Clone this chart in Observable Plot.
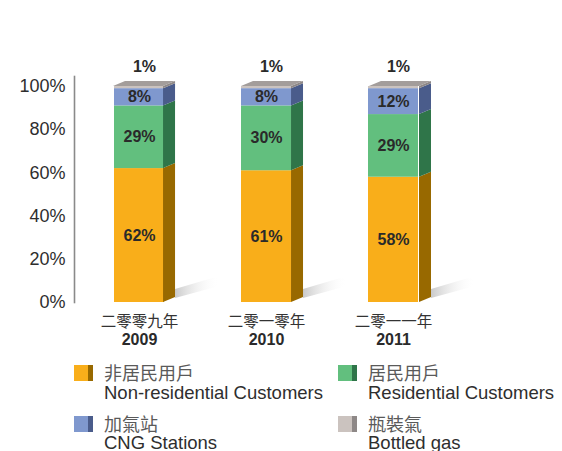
<!DOCTYPE html>
<html><head><meta charset="utf-8">
<script src="https://cdn.jsdelivr.net/npm/d3@7"></script>
<script src="https://cdn.jsdelivr.net/npm/@observablehq/plot@0.6"></script>
<style>
body{margin:0;background:#fff;font-family:"Liberation Sans",Arial,Helvetica,sans-serif;}
#wrap{position:relative;width:562px;height:451px;overflow:hidden;}
#chart{position:absolute;left:0;top:0;}
.sw{position:absolute;width:19px;height:16px;}
.zh{position:absolute;font-family:"Noto Sans CJK TC","Noto Sans CJK SC",sans-serif;font-size:18px;line-height:20px;color:#5a5a5a;white-space:nowrap;}
.en{position:absolute;font-size:18.5px;line-height:19px;color:#2e2e2e;white-space:nowrap;}
</style></head><body>
<div id="wrap"><div id="chart"></div><div id="legend"></div></div>
<script>
const years = ["2009", "2010", "2011"];
const yearLabelsZh = ["二零零九年", "二零一零年", "二零一一年"];
const seriesZh = ["非居民用戶", "居民用戶", "加氣站", "瓶裝氣"];
const seriesEn = ["Non-residential Customers", "Residential Customers", "CNG Stations", "Bottled gas"];
const nonResidential = [62, 61, 58];
const residential = [29, 30, 29];
const cng = [8, 8, 12];
const bottled = [1, 1, 1];
const yTicks = [0, 20, 40, 60, 80, 100];

const frontColors = ["#F9AE1A", "#62BF7E", "#7F98CE", "#CBC3BF"];
const sideColors = ["#986900", "#2F7549", "#4A5C8B", "#8E8887"];
const topColor = "#A39D9B";

const seriesValues = [nonResidential, residential, cng, bottled];
const rows = [];
years.forEach((yr, i) => {
  let acc = 0;
  seriesValues.forEach((vals, s) => {
    const v = vals[i];
    rows.push({year: yr, series: seriesEn[s], s, value: v, y1: acc, y2: acc + v, mid: acc + v / 2, label: v + "%"});
    acc += v;
  });
});
const inner = rows.filter(d => d.s < 3);
const topRows = rows.filter(d => d.s === 3);

const W = 562, H = 345;
const chart = Plot.plot({
  width: W, height: H,
  marginTop: 86, marginBottom: 43, marginLeft: 74, marginRight: 0,
  style: {fontFamily: "'Liberation Sans', Arial, sans-serif", background: "transparent", overflow: "visible"},
  x: {domain: years, range: [113, 419], paddingInner: 0.609, paddingOuter: 0, axis: null, label: null},
  y: {domain: [0, 100], axis: null, label: null},
  color: {domain: seriesEn, range: frontColors},
  marks: [
    Plot.frame({anchor: "left", stroke: "#8a8a8a", strokeWidth: 1.6, insetTop: -10}),
    Plot.axisY({ticks: yTicks, tickSize: 0, tickPadding: 9, tickFormat: d => d + "%", fontSize: 18, fill: "#2e2e2e", label: null}),
    Plot.axisX({tickSize: 0, tickPadding: 13, tickFormat: d => yearLabelsZh[years.indexOf(d)], fontSize: 15.5, fill: "#333", fontFamily: "'Noto Sans CJK TC', sans-serif", label: null}),
    Plot.axisX({tickSize: 0, tickPadding: 31, fontSize: 16, fontWeight: "bold", fill: "#2a2a2a", label: null}),
    Plot.barY(rows, {x: "year", y1: "y1", y2: "y2", fill: "series"}),
    Plot.text(inner, {x: "year", y: "mid", text: "label", fontSize: 16, fontWeight: "bold", fill: "#2a2a2a"}),
    Plot.text(topRows, {x: "year", y: "y2", text: "label", fontSize: 16, fontWeight: "bold", fill: "#2a2a2a", dy: -20, dx: 5})
  ]
});
document.getElementById("chart").appendChild(chart);

// 3D side/top faces and shadows drawn from Plot's own scales
const sx = chart.scale("x"), sy = chart.scale("y");
const xs = d3.scaleBand().domain(sx.domain).range(sx.range)
  .paddingInner(sx.paddingInner ?? 0.609).paddingOuter(sx.paddingOuter ?? 0).align(sx.align ?? 0.5);
const ys = d3.scaleLinear().domain(sy.domain).range(sy.range);
const bw = xs.bandwidth();
const DX = 12, DY = 5;
const svg = d3.select(chart);
const defs = svg.append("defs");
const grad = defs.append("linearGradient").attr("id", "shadowGrad").attr("x1", "0").attr("x2", "1").attr("y1", "0").attr("y2", "0");
grad.append("stop").attr("offset", "0").attr("stop-color", "#c4c4c4").attr("stop-opacity", 0.9);
grad.append("stop").attr("offset", "1").attr("stop-color", "#ffffff").attr("stop-opacity", 0);
const barNode = svg.select('g[aria-label="bar"]').node();
const g = d3.create("svg:g").attr("aria-label", "3d");
const pts = p => p.map(q => q.join(",")).join(" ");
years.forEach(yr => {
  const xl = xs(yr), xr = xl + bw;
  const y0 = ys(0);
  g.append("polygon").attr("fill", "url(#shadowGrad)")
    .attr("points", pts([[xr + DX, y0 - DY + 1], [xr + DX, y0 - 13], [xr + DX + 44, y0 - 26], [xr + DX + 44, y0 - 16]]));
});
rows.forEach(d => {
  const xr = xs(d.year) + bw;
  const a = ys(d.y1), b = ys(d.y2);
  g.append("polygon").attr("fill", sideColors[d.s])
    .attr("points", pts([[xr, a], [xr + DX, a - DY], [xr + DX, b - DY], [xr, b]]));
});
years.forEach(yr => {
  const xl = xs(yr), xr = xl + bw, t = ys(100);
  g.append("polygon").attr("fill", topColor)
    .attr("points", pts([[xl, t], [xl + DX, t - DY], [xr + DX, t - DY], [xr, t]]));
});
barNode.parentNode.insertBefore(g.node(), barNode.nextSibling);

// Legend
const legend = document.getElementById("legend");
const pos = [
  {sx: 74, sy: 365, tx: 104, zy: 362, ey: 383},
  {sx: 338, sy: 365, tx: 368, zy: 362, ey: 383},
  {sx: 74, sy: 416, tx: 104, zy: 413, ey: 433},
  {sx: 338, sy: 416, tx: 368, zy: 413, ey: 433}
];
seriesEn.forEach((name, i) => {
  const p = pos[i];
  const sw = document.createElement("div");
  sw.className = "sw";
  sw.style.left = p.sx + "px"; sw.style.top = p.sy + "px";
  sw.style.background = `linear-gradient(to right, ${frontColors[i]} 0 14px, ${sideColors[i]} 14px 19px)`;
  legend.appendChild(sw);
  const zh = document.createElement("div");
  zh.className = "zh"; zh.textContent = seriesZh[i];
  zh.style.left = p.tx + "px"; zh.style.top = p.zy + "px";
  legend.appendChild(zh);
  const en = document.createElement("div");
  en.className = "en"; en.textContent = name;
  en.style.left = p.tx + "px"; en.style.top = p.ey + "px";
  legend.appendChild(en);
});
</script>
</body></html>
